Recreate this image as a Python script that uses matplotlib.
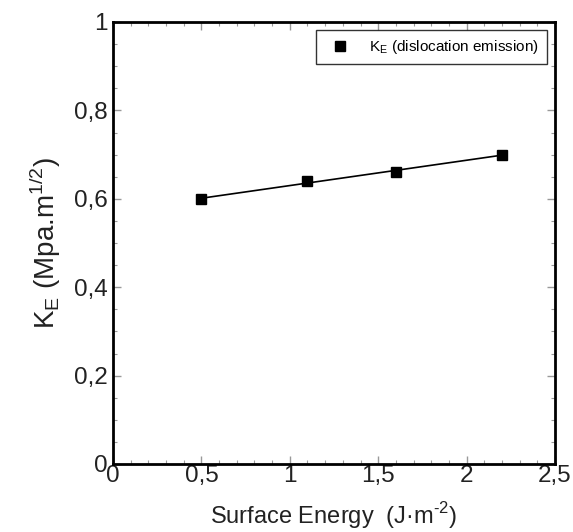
import numpy as np
import matplotlib.pyplot as plt
from matplotlib.ticker import MultipleLocator, FuncFormatter

plt.rcParams['font.family'] = ['Liberation Sans', 'DejaVu Sans']
plt.rcParams['axes.unicode_minus'] = False

surface_energy = [0.5, 1.1, 1.6, 2.2]
k_e = [0.60, 0.64, 0.66, 0.70]

fig = plt.figure(figsize=(5.73, 5.32), dpi=100)
ax = fig.add_axes([113/573, 1 - 464/532, 442/573, 442/532])

# linear fit through the points
coef = np.polyfit(surface_energy, k_e, 1)
xf = np.array([min(surface_energy), max(surface_energy)])
ax.plot(xf, np.polyval(coef, xf), color='black', lw=1.2)
ax.plot(surface_energy, k_e, 's', color='black', ms=7.5, ls='none',
        label=r'K$_\mathregular{E}$ (dislocation emission)')

ax.set_xlim(0, 2.5)
ax.set_ylim(0, 1)
ax.xaxis.set_major_locator(MultipleLocator(0.5))
ax.xaxis.set_minor_locator(MultipleLocator(0.1))
ax.yaxis.set_major_locator(MultipleLocator(0.2))
ax.yaxis.set_minor_locator(MultipleLocator(0.05))

def comma(v, pos):
    s = ('%g' % round(v, 3))
    return s.replace('.', ',')

ax.xaxis.set_major_formatter(FuncFormatter(comma))
ax.yaxis.set_major_formatter(FuncFormatter(comma))
ax.tick_params(which='both', direction='in', top=True, right=True, color='#999999')
ax.tick_params(which='major', length=6, width=1, labelsize=17.5, labelcolor='#222222')
ax.tick_params(which='minor', length=3, width=0.8)
ax.tick_params(axis='x', pad=1)
ax.tick_params(axis='y', pad=4)
for sp in ax.spines.values():
    sp.set_linewidth(2)

ax.set_xlabel(u'Surface Energy  (J\u00b7m$^\\mathregular{\u20102}$)', fontsize=17, labelpad=9, color='#222222')
ax.set_ylabel(r'K$_\mathregular{E}$ (Mpa.m$^\mathregular{1/2}$)', fontsize=20, labelpad=8, color='#222222')

leg = ax.legend(loc='upper right', fontsize=11, frameon=True, fancybox=False,
                edgecolor='black', handletextpad=0.9, borderpad=0.55, markerscale=0.9,
                borderaxespad=0.5)
leg.get_frame().set_linewidth(1)

fig.savefig('out.png', dpi=100)
